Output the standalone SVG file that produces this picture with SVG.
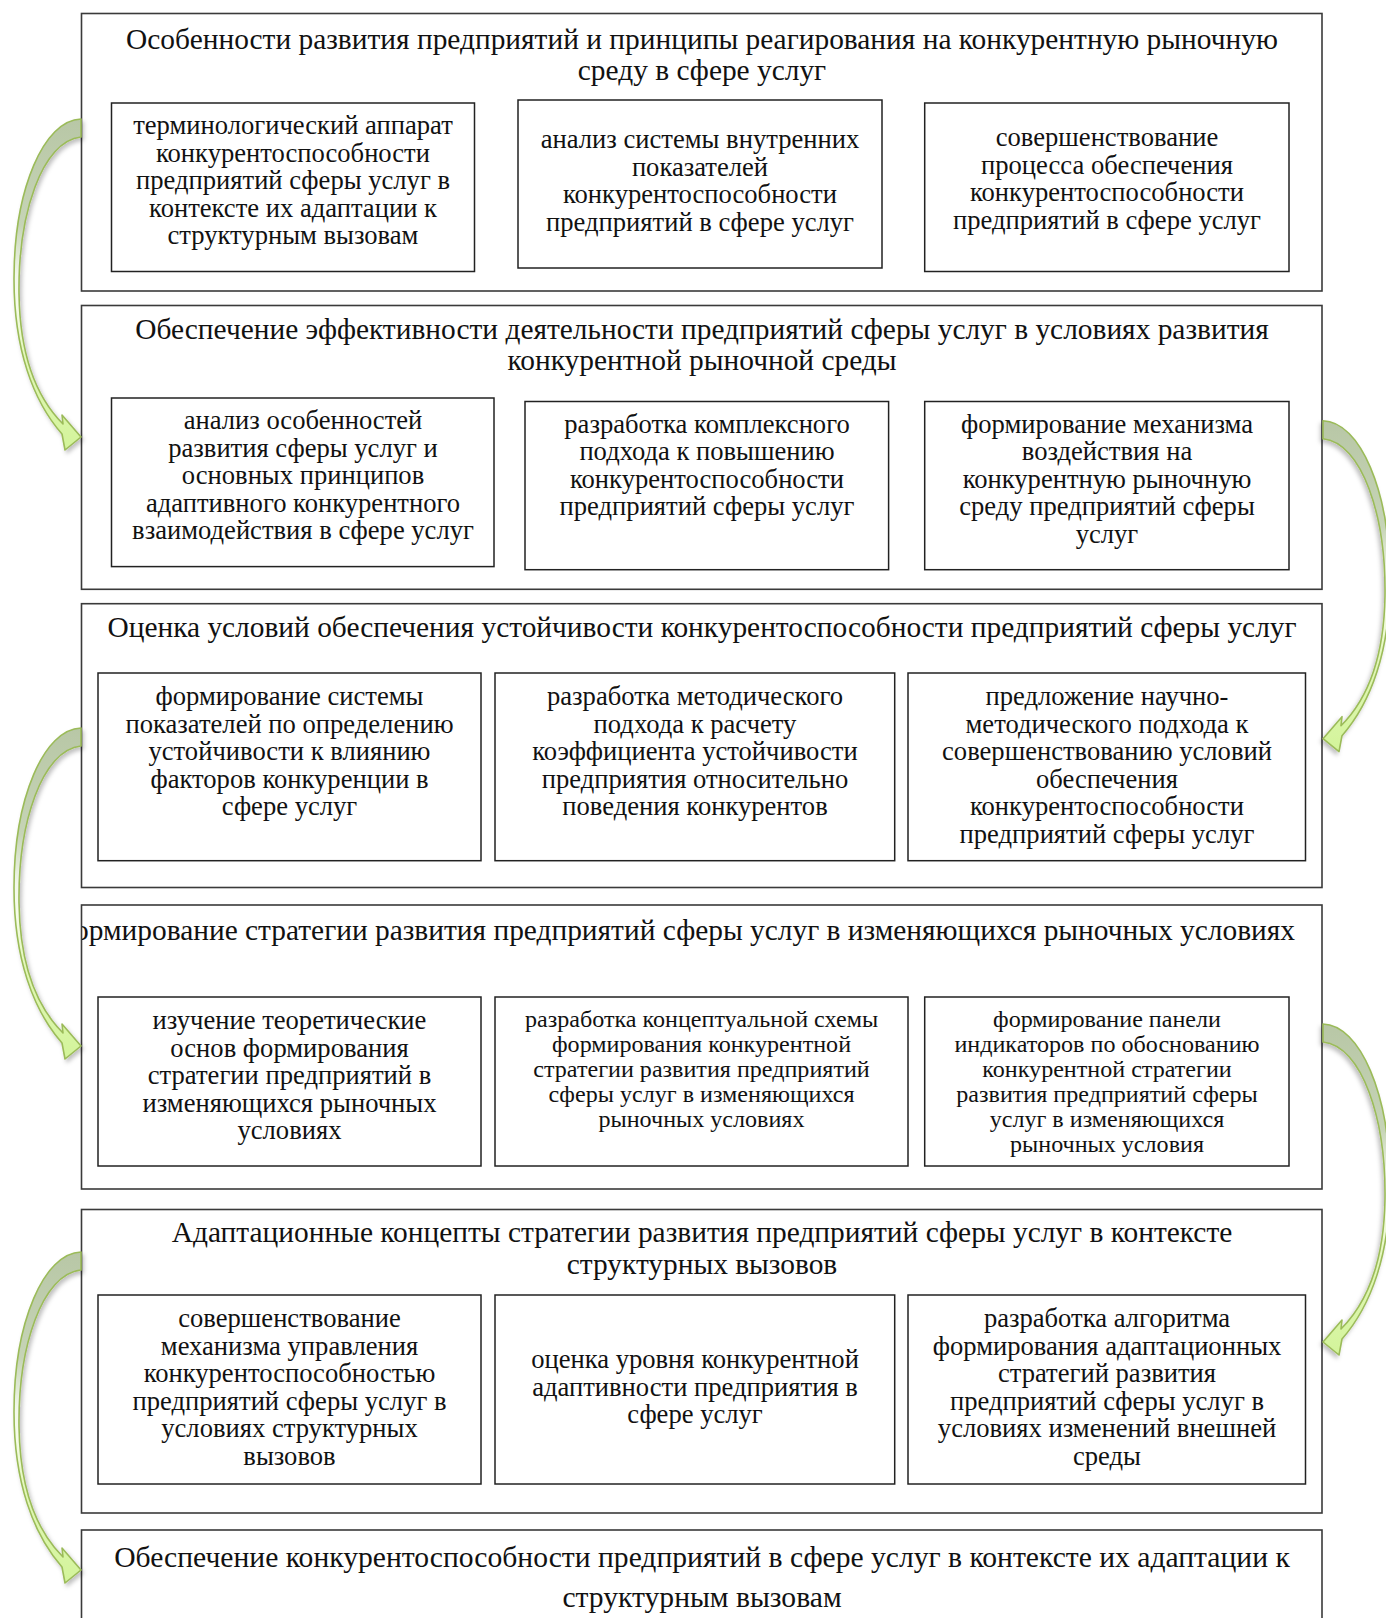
<svg xmlns="http://www.w3.org/2000/svg" xmlns:xlink="http://www.w3.org/1999/xlink" width="1386" height="1618" viewBox="0 0 1386 1618">
<style>
.outer{fill:#fff;stroke:#3a3a3a;stroke-width:1.6}
.inner{fill:#fff;stroke:#222;stroke-width:1.5}
text{font-family:'Liberation Serif','Times New Roman',serif;fill:#111;text-anchor:middle}
.t{font-size:29.4px}
.i{font-size:26.6px}
.s{font-size:24.1px}
.arrow{fill:url(#ag);stroke:#9bbb59;stroke-width:1.6;stroke-linejoin:round;filter:url(#sh)}
</style>
<defs>
<linearGradient id="ag" x1="0" y1="0" x2="0" y2="1">
<stop offset="0" stop-color="#b8c7a6"/>
<stop offset="0.32" stop-color="#c6d4b6"/>
<stop offset="0.47" stop-color="#f2f8ea"/>
<stop offset="0.56" stop-color="#f6fdea"/>
<stop offset="0.72" stop-color="#e2f7b9"/>
<stop offset="1" stop-color="#d3f49a"/>
</linearGradient>
<filter id="sh" x="-30%" y="-10%" width="160%" height="130%">
<feDropShadow dx="2" dy="3" stdDeviation="2" flood-color="#000" flood-opacity="0.25"/>
</filter>
<clipPath id="c4"><rect x="82" y="906" width="1239" height="282"/></clipPath>
<path id="arrowL" class="arrow" d="M81,0 C44,1 14,70 14,160 C14,230 33,282 62,315 L65,331 L81,318 L62,296 L63,305 C39,281 20,240 19,175 C18,95 42,22 81,18 Z"/>
</defs>

<g id="block1">
<rect class="outer" x="81.5" y="13.5" width="1240.5" height="277.5"/>
<text class="t"><tspan x="702" y="48.5">Особенности развития предприятий и принципы реагирования на конкурентную рыночную</tspan><tspan x="702" y="79.5">среду в сфере услуг</tspan></text>
</g>
<g id="n1a"><rect class="inner" x="111.5" y="103" width="363" height="168.5"/>
<text class="i"><tspan x="293" y="134">терминологический аппарат</tspan><tspan x="293" y="161.5">конкурентоспособности</tspan><tspan x="293" y="189">предприятий сферы услуг в</tspan><tspan x="293" y="216.5">контексте их адаптации к</tspan><tspan x="293" y="244">структурным вызовам</tspan></text></g>
<g id="n1b"><rect class="inner" x="518" y="100" width="364" height="168"/>
<text class="i"><tspan x="700" y="148">анализ системы внутренних</tspan><tspan x="700" y="175.5">показателей</tspan><tspan x="700" y="203">конкурентоспособности</tspan><tspan x="700" y="230.5">предприятий в сфере услуг</tspan></text></g>
<g id="n1c"><rect class="inner" x="924.7" y="103" width="364.3" height="168.5"/>
<text class="i"><tspan x="1107" y="146">совершенствование</tspan><tspan x="1107" y="173.5">процесса обеспечения</tspan><tspan x="1107" y="201">конкурентоспособности</tspan><tspan x="1107" y="228.5">предприятий в сфере услуг</tspan></text></g>

<g id="block2">
<rect class="outer" x="81.5" y="305.5" width="1240.5" height="283.8"/>
<text class="t"><tspan x="702" y="339">Обеспечение эффективности деятельности предприятий сферы услуг в условиях развития</tspan><tspan x="702" y="370">конкурентной рыночной среды</tspan></text>
</g>
<g id="n2a"><rect class="inner" x="111.5" y="398" width="382.5" height="168.6"/>
<text class="i"><tspan x="303" y="429">анализ особенностей</tspan><tspan x="303" y="456.5">развития сферы услуг и</tspan><tspan x="303" y="484">основных принципов</tspan><tspan x="303" y="511.5">адаптивного конкурентного</tspan><tspan x="303" y="539">взаимодействия в сфере услуг</tspan></text></g>
<g id="n2b"><rect class="inner" x="525" y="401.5" width="363.6" height="168.2"/>
<text class="i"><tspan x="707" y="432.5">разработка комплексного</tspan><tspan x="707" y="460">подхода к повышению</tspan><tspan x="707" y="487.5">конкурентоспособности</tspan><tspan x="707" y="515">предприятий сферы услуг</tspan></text></g>
<g id="n2c"><rect class="inner" x="924.7" y="401.5" width="364.3" height="168.2"/>
<text class="i"><tspan x="1107" y="432.5">формирование механизма</tspan><tspan x="1107" y="460">воздействия на</tspan><tspan x="1107" y="487.5">конкурентную рыночную</tspan><tspan x="1107" y="515">среду предприятий сферы</tspan><tspan x="1107" y="542.5">услуг</tspan></text></g>

<g id="block3">
<rect class="outer" x="81.5" y="603.7" width="1240.5" height="283.8"/>
<text class="t" x="702" y="637">Оценка условий обеспечения устойчивости конкурентоспособности предприятий сферы услуг</text>
</g>
<g id="n3a"><rect class="inner" x="98" y="673" width="383" height="187.7"/>
<text class="i"><tspan x="289.5" y="705">формирование системы</tspan><tspan x="289.5" y="732.5">показателей по определению</tspan><tspan x="289.5" y="760">устойчивости к влиянию</tspan><tspan x="289.5" y="787.5">факторов конкуренции в</tspan><tspan x="289.5" y="815">сфере услуг</tspan></text></g>
<g id="n3b"><rect class="inner" x="495" y="673" width="399.7" height="187.7"/>
<text class="i"><tspan x="695" y="705">разработка методического</tspan><tspan x="695" y="732.5">подхода к расчету</tspan><tspan x="695" y="760">коэффициента устойчивости</tspan><tspan x="695" y="787.5">предприятия относительно</tspan><tspan x="695" y="815">поведения конкурентов</tspan></text></g>
<g id="n3c"><rect class="inner" x="908" y="673" width="397.5" height="187.7"/>
<text class="i"><tspan x="1107" y="705">предложение научно-</tspan><tspan x="1107" y="732.5">методического подхода к</tspan><tspan x="1107" y="760">совершенствованию условий</tspan><tspan x="1107" y="787.5">обеспечения</tspan><tspan x="1107" y="815">конкурентоспособности</tspan><tspan x="1107" y="842.5">предприятий сферы услуг</tspan></text></g>

<g id="block4">
<rect class="outer" x="81.5" y="905" width="1240.5" height="284"/>
<text class="t" clip-path="url(#c4)" x="1295" y="940" style="text-anchor:end">Формирование стратегии развития предприятий сферы услуг в изменяющихся рыночных условиях</text>
</g>
<g id="n4a"><rect class="inner" x="98" y="997" width="383" height="169"/>
<text class="i"><tspan x="289.5" y="1029">изучение теоретические</tspan><tspan x="289.5" y="1056.5">основ формирования</tspan><tspan x="289.5" y="1084">стратегии предприятий в</tspan><tspan x="289.5" y="1111.5">изменяющихся рыночных</tspan><tspan x="289.5" y="1139">условиях</tspan></text></g>
<g id="n4b"><rect class="inner" x="495" y="997" width="413" height="169"/>
<text class="s"><tspan x="701.5" y="1027">разработка концептуальной схемы</tspan><tspan x="701.5" y="1052">формирования конкурентной</tspan><tspan x="701.5" y="1077">стратегии развития предприятий</tspan><tspan x="701.5" y="1102">сферы услуг в изменяющихся</tspan><tspan x="701.5" y="1127">рыночных условиях</tspan></text></g>
<g id="n4c"><rect class="inner" x="924.7" y="997" width="364.3" height="169"/>
<text class="s"><tspan x="1107" y="1027">формирование панели</tspan><tspan x="1107" y="1052">индикаторов по обоснованию</tspan><tspan x="1107" y="1077">конкурентной стратегии</tspan><tspan x="1107" y="1102">развития предприятий сферы</tspan><tspan x="1107" y="1127">услуг в изменяющихся</tspan><tspan x="1107" y="1152">рыночных условия</tspan></text></g>

<g id="block5">
<rect class="outer" x="81.5" y="1209.5" width="1240.5" height="303.5"/>
<text class="t"><tspan x="702" y="1242">Адаптационные концепты стратегии развития предприятий сферы услуг в контексте</tspan><tspan x="702" y="1274">структурных вызовов</tspan></text>
</g>
<g id="n5a"><rect class="inner" x="98" y="1295" width="383" height="189"/>
<text class="i"><tspan x="289.5" y="1327">совершенствование</tspan><tspan x="289.5" y="1354.5">механизма управления</tspan><tspan x="289.5" y="1382">конкурентоспособностью</tspan><tspan x="289.5" y="1409.5">предприятий сферы услуг в</tspan><tspan x="289.5" y="1437">условиях структурных</tspan><tspan x="289.5" y="1464.5">вызовов</tspan></text></g>
<g id="n5b"><rect class="inner" x="495" y="1295" width="399.7" height="189"/>
<text class="i"><tspan x="695" y="1368">оценка уровня конкурентной</tspan><tspan x="695" y="1395.5">адаптивности предприятия в</tspan><tspan x="695" y="1423">сфере услуг</tspan></text></g>
<g id="n5c"><rect class="inner" x="908" y="1295" width="397.5" height="189"/>
<text class="i"><tspan x="1107" y="1327">разработка алгоритма</tspan><tspan x="1107" y="1354.5">формирования адаптационных</tspan><tspan x="1107" y="1382">стратегий развития</tspan><tspan x="1107" y="1409.5">предприятий сферы услуг в</tspan><tspan x="1107" y="1437">условиях изменений внешней</tspan><tspan x="1107" y="1464.5">среды</tspan></text></g>

<g id="block6">
<rect class="outer" x="81.5" y="1530" width="1240.5" height="110"/>
<text class="t" style="font-size:29.6px"><tspan x="702" y="1567">Обеспечение конкурентоспособности предприятий в сфере услуг в контексте их адаптации к</tspan><tspan x="702" y="1607">структурным вызовам</tspan></text>
</g>

<g id="connectors">
<use xlink:href="#arrowL" transform="translate(0,119)"/>
<use xlink:href="#arrowL" transform="translate(1404,420.7) scale(-1,1)"/>
<use xlink:href="#arrowL" transform="translate(0,728)"/>
<use xlink:href="#arrowL" transform="translate(1404,1024) scale(-1,1)"/>
<use xlink:href="#arrowL" transform="translate(0,1252)"/>
</g>
</svg>
